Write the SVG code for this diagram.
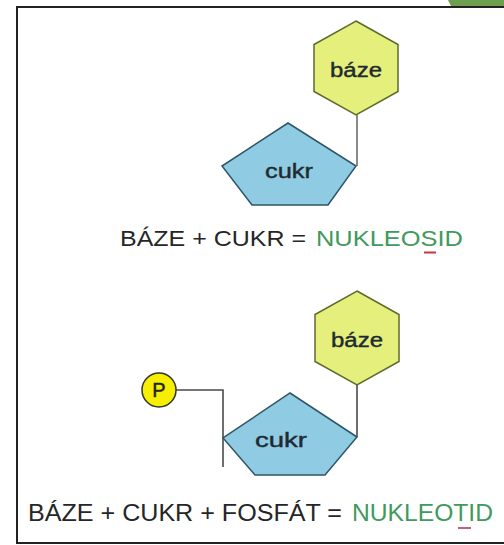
<svg xmlns="http://www.w3.org/2000/svg" width="504" height="545" viewBox="0 0 504 545">
  <style>
    .hex { fill: #e4ef7c; stroke: #5f6a2c; stroke-width: 1.5; }
    .pent { fill: #8fcbe2; stroke: #2e5566; stroke-width: 1.5; }
    .lbl { font-family: "Liberation Sans", Arial, sans-serif; font-size: 20px; fill: #1f2a30; stroke: #1f2a30; stroke-width: 0.4; text-anchor: middle; }
    .eq { font-family: "Liberation Sans", Arial, sans-serif; fill: #262626; }
    .green { fill: #3f9a5c; }
    .link { fill: none; stroke: #8a8a8a; stroke-width: 2; }
    .link2 { fill: none; stroke: #4a4a4a; stroke-width: 1.6; }
  </style>
  <rect x="0" y="0" width="504" height="545" fill="#ffffff"/>
  <polygon points="448,0 504,0 504,6 451,6" fill="#6e9e50"/>
  <rect x="17" y="7" width="500" height="536" fill="#ffffff" stroke="#222222" stroke-width="2"/>

  <g id="connectors">
    <line class="link" x1="357" y1="115" x2="357" y2="166"/>
    <line class="link2" x1="357" y1="385" x2="357" y2="437"/>
    <polyline class="link2" points="176,390 223,390 223,467"/>
  </g>

  <g id="baze1">
    <polygon class="hex" points="356,21 398,44.5 398,91.5 356,115 314,91.5 314,44.5"/>
    <text class="lbl" x="356" y="77" textLength="52" lengthAdjust="spacingAndGlyphs">báze</text>
  </g>
  <g id="cukr1">
    <polygon class="pent" points="288,123 356,166 328,205 252,205 222,166"/>
    <text class="lbl" x="289" y="178" textLength="48" lengthAdjust="spacingAndGlyphs">cukr</text>
  </g>
  <g id="eq1">
    <text class="eq" x="120" y="246" font-size="22" textLength="186" lengthAdjust="spacingAndGlyphs">BÁZE + CUKR =</text>
    <text class="eq green" x="316" y="246" font-size="22" textLength="147" lengthAdjust="spacingAndGlyphs">NUKLEOSID</text>
    <line x1="424" y1="252.5" x2="436" y2="252.5" stroke="#c8343f" stroke-width="2"/>
  </g>

  <g id="baze2">
    <polygon class="hex" points="357,291 399,314.5 399,361.5 357,385 315,361.5 315,314.5"/>
    <text class="lbl" x="357" y="347" textLength="52" lengthAdjust="spacingAndGlyphs">báze</text>
  </g>
  <g id="cukr2">
    <polygon class="pent" points="290,393 357,437 325,475 255,475 223,438"/>
    <text class="lbl" x="281" y="447" textLength="52" lengthAdjust="spacingAndGlyphs">cukr</text>
  </g>
  <g id="fosfat">
    <circle cx="159" cy="390" r="17" fill="#f7ef00" stroke="#333333" stroke-width="1.5"/>
    <text x="159" y="397" font-family="Liberation Sans, Arial, sans-serif" font-size="20" fill="#222222" stroke="#222222" stroke-width="0.4" text-anchor="middle">P</text>
  </g>
  <g id="eq2">
    <text class="eq" x="28" y="521" font-size="24" textLength="314" lengthAdjust="spacingAndGlyphs">BÁZE + CUKR + FOSFÁT =</text>
    <text class="eq green" x="352" y="521" font-size="24" textLength="141" lengthAdjust="spacingAndGlyphs">NUKLEOTID</text>
    <line x1="458" y1="528" x2="471" y2="528" stroke="#c0607e" stroke-width="2"/>
  </g>
</svg>
